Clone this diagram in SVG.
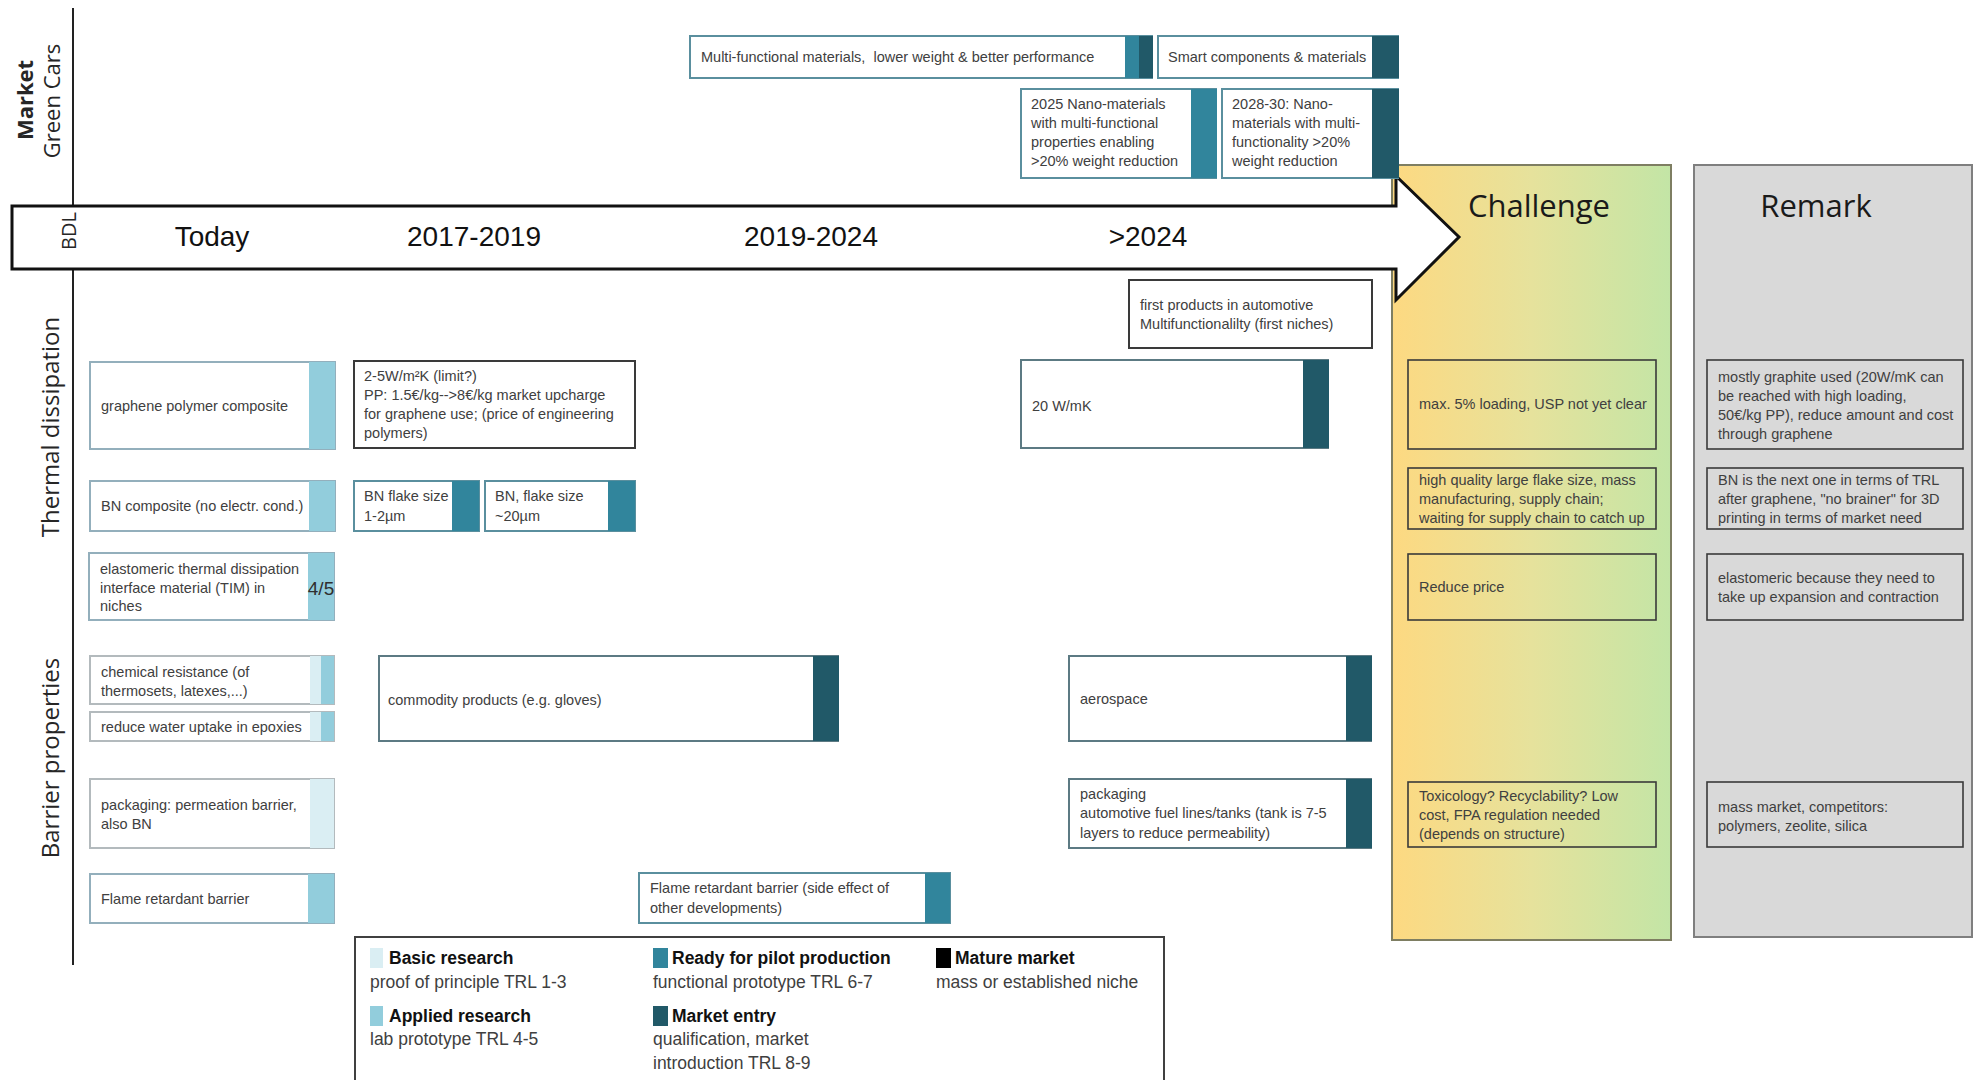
<svg xmlns="http://www.w3.org/2000/svg" width="1975" height="1080" viewBox="0 0 1975 1080">
  <defs>
    <linearGradient id="chgGrad" x1="0" y1="0" x2="1" y2="0">
      <stop offset="0" stop-color="#FDD981"/>
      <stop offset="0.5" stop-color="#E6E29C"/>
      <stop offset="1" stop-color="#C3E5A6"/>
    </linearGradient>
  </defs>
  <style>
    .t { font-family: "Liberation Sans", Arial, sans-serif; font-size: 14.5px; fill: #404040; }
    .hdr { font-family: "Open Sans", "Liberation Sans", sans-serif; font-size: 31px; fill: #1a1a1a; }
    .yr { font-family: "Liberation Sans", Arial, sans-serif; font-size: 28px; fill: #111; text-anchor: middle; }
    .side { font-family: "Open Sans", "Liberation Sans", sans-serif; font-size: 24px; fill: #262626; text-anchor: middle; }
    .lgT { font-family: "Liberation Sans", Arial, sans-serif; font-size: 17.5px; font-weight: bold; fill: #111; }
    .lgS { font-family: "Liberation Sans", Arial, sans-serif; font-size: 17.5px; fill: #404040; }
    .box { fill: #fff; stroke-width: 2; }
    .bApp { stroke: #93AFBC; }
    .bGray { stroke: #B3BABD; }
    .bDark { stroke: #5C7A83; }
    .bTeal { stroke: #5A8F9E; }
    .bInk { stroke: #3A3A3A; }
    .inner { fill: none; stroke: #3A3A3A; stroke-width: 1.6; }
    .s1 { fill: #DAEEF3; }
    .s2 { fill: #92CDDC; }
    .s3 { fill: #31859C; }
    .s4 { fill: #215968; }
    .s5 { fill: #000; }
  </style>

  <!-- side panels -->
  <g id="challenge">
    <rect x="1392" y="165" width="279" height="775" fill="url(#chgGrad)" stroke="#7E7E62" stroke-width="2"/>
    <text class="hdr" x="1539" y="217" text-anchor="middle">Challenge</text>
  </g>
  <g id="remark">
    <rect x="1694" y="165" width="278" height="772" fill="#D9D9D9" stroke="#7F7F7F" stroke-width="2"/>
    <text class="hdr" x="1816" y="217" text-anchor="middle">Remark</text>
  </g>

  <!-- time axis -->
  <g id="axis">
    <line x1="73" y1="8" x2="73" y2="965" stroke="#222" stroke-width="2"/>
    <polygon points="12,206 1396,206 1396,176 1459,237 1396,300 1396,269 12,269" fill="#fff" stroke="#111" stroke-width="3"/>
    <text class="yr" x="212" y="246">Today</text>
    <text class="yr" x="474" y="246">2017-2019</text>
    <text class="yr" x="811" y="246">2019-2024</text>
    <text class="yr" x="1148" y="246">&gt;2024</text>
  </g>

  <!-- row labels -->
  <g id="row-labels">
    <text class="side" style="font-weight:bold;font-size:22px" transform="translate(33,100) rotate(-90)">Market</text>
    <text class="side" style="font-size:22px" transform="translate(60,101) rotate(-90)">Green Cars</text>
    <text class="side" style="font-size:20px" transform="translate(76,231) rotate(-90)">BDL</text>
    <text class="side" transform="translate(59,427) rotate(-90)">Thermal dissipation</text>
    <text class="side" transform="translate(59,758) rotate(-90)">Barrier properties</text>
  </g>

  <!-- Green Cars market -->
  <g id="multi-functional">
    <rect class="box bTeal" x="690" y="36" width="462" height="42"/>
    <rect class="s3" x="1125" y="36" width="14" height="42"/>
    <rect class="s4" x="1139" y="36" width="14" height="42"/>
    <text class="t" x="701" y="62">Multi-functional materials, &#160;lower weight &amp; better performance</text>
  </g>
  <g id="smart-components">
    <rect class="box bTeal" x="1158" y="36" width="240" height="42"/>
    <rect class="s4" x="1372" y="36" width="27" height="42"/>
    <text class="t" x="1168" y="62">Smart components &amp; materials</text>
  </g>
  <g id="nano-2025">
    <rect class="box bTeal" x="1021" y="89" width="195" height="89"/>
    <rect class="s3" x="1191" y="89" width="26" height="89"/>
    <text class="t" x="1031" y="109">2025 Nano-materials</text>
    <text class="t" x="1031" y="128">with multi-functional</text>
    <text class="t" x="1031" y="147">properties enabling</text>
    <text class="t" x="1031" y="166">&gt;20% weight reduction</text>
  </g>
  <g id="nano-2028">
    <rect class="box bTeal" x="1222" y="89" width="176" height="89"/>
    <rect class="s4" x="1372" y="89" width="27" height="89"/>
    <text class="t" x="1232" y="109">2028-30: Nano-</text>
    <text class="t" x="1232" y="128">materials with multi-</text>
    <text class="t" x="1232" y="147">functionality &gt;20%</text>
    <text class="t" x="1232" y="166">weight reduction</text>
  </g>

  <!-- Thermal dissipation -->
  <g id="first-products">
    <rect class="box bInk" x="1129" y="280" width="243" height="68"/>
    <text class="t" x="1140" y="310">first products in automotive</text>
    <text class="t" x="1140" y="329">Multifunctionalilty (first niches)</text>
  </g>
  <g id="graphene-composite">
    <rect class="box bApp" x="90" y="362" width="245" height="87"/>
    <rect class="s2" x="309" y="362" width="26" height="87"/>
    <text class="t" x="101" y="411">graphene polymer composite</text>
  </g>
  <g id="graphene-price">
    <rect class="box bInk" x="354" y="361" width="281" height="87"/>
    <text class="t" x="364" y="381">2-5W/m²K (limit?)</text>
    <text class="t" x="364" y="400">PP: 1.5€/kg--&gt;8€/kg market upcharge</text>
    <text class="t" x="364" y="419">for graphene use; (price of engineering</text>
    <text class="t" x="364" y="438">polymers)</text>
  </g>
  <g id="w-mk-20">
    <rect class="box bDark" x="1021" y="360" width="307" height="88"/>
    <rect class="s4" x="1303" y="360" width="26" height="88"/>
    <text class="t" x="1032" y="411">20 W/mK</text>
  </g>
  <g id="bn-composite">
    <rect class="box bApp" x="90" y="481" width="245" height="50"/>
    <rect class="s2" x="309" y="481" width="26" height="50"/>
    <text class="t" x="101" y="511">BN composite (no electr. cond.)</text>
  </g>
  <g id="bn-flake-small">
    <rect class="box bTeal" x="354" y="481" width="125" height="50"/>
    <rect class="s3" x="452" y="481" width="27" height="50"/>
    <text class="t" x="364" y="501">BN flake size</text>
    <text class="t" x="364" y="521">1-2µm</text>
  </g>
  <g id="bn-flake-large">
    <rect class="box bTeal" x="485" y="481" width="150" height="50"/>
    <rect class="s3" x="608" y="481" width="27" height="50"/>
    <text class="t" x="495" y="501">BN, flake size</text>
    <text class="t" x="495" y="521">~20µm</text>
  </g>
  <g id="elastomeric-tim">
    <rect class="box bApp" x="89" y="553" width="245" height="67"/>
    <rect class="s2" x="308" y="553" width="26" height="67"/>
    <text class="t" x="100" y="574">elastomeric thermal dissipation</text>
    <text class="t" x="100" y="593">interface material (TIM) in</text>
    <text class="t" x="100" y="611">niches</text>
    <text x="321" y="595" text-anchor="middle" style="font-family:'Liberation Sans',Arial,sans-serif;font-size:19px;fill:#2f2f2f">4/5</text>
  </g>

  <!-- Barrier properties -->
  <g id="chemical-resistance">
    <rect class="box bGray" x="90" y="656" width="244" height="48"/>
    <rect class="s1" x="310" y="656" width="11" height="48"/>
    <rect class="s2" x="321" y="656" width="13" height="48"/>
    <text class="t" x="101" y="677">chemical resistance (of</text>
    <text class="t" x="101" y="696">thermosets, latexes,...)</text>
  </g>
  <g id="water-uptake">
    <rect class="box bGray" x="90" y="712" width="244" height="29"/>
    <rect class="s1" x="310" y="712" width="11" height="29"/>
    <rect class="s2" x="321" y="712" width="13" height="29"/>
    <text class="t" x="101" y="732">reduce water uptake in epoxies</text>
  </g>
  <g id="commodity-products">
    <rect class="box bDark" x="379" y="656" width="459" height="85"/>
    <rect class="s4" x="813" y="656" width="26" height="85"/>
    <text class="t" x="388" y="705">commodity products (e.g. gloves)</text>
  </g>
  <g id="aerospace">
    <rect class="box bDark" x="1069" y="656" width="302" height="85"/>
    <rect class="s4" x="1346" y="656" width="26" height="85"/>
    <text class="t" x="1080" y="704">aerospace</text>
  </g>
  <g id="packaging-permeation">
    <rect class="box bGray" x="90" y="779" width="244" height="69"/>
    <rect class="s1" x="310" y="779" width="24" height="69"/>
    <text class="t" x="101" y="810">packaging: permeation barrier,</text>
    <text class="t" x="101" y="829">also BN</text>
  </g>
  <g id="packaging-automotive">
    <rect class="box bDark" x="1069" y="779" width="302" height="69"/>
    <rect class="s4" x="1346" y="779" width="26" height="69"/>
    <text class="t" x="1080" y="799">packaging</text>
    <text class="t" x="1080" y="818">automotive fuel lines/tanks (tank is 7-5</text>
    <text class="t" x="1080" y="838">layers to reduce permeability)</text>
  </g>
  <g id="flame-retardant">
    <rect class="box bApp" x="90" y="874" width="244" height="49"/>
    <rect class="s2" x="308" y="874" width="26" height="49"/>
    <text class="t" x="101" y="904">Flame retardant barrier</text>
  </g>
  <g id="flame-retardant-side">
    <rect class="box bTeal" x="639" y="873" width="311" height="50"/>
    <rect class="s3" x="925" y="873" width="25" height="50"/>
    <text class="t" x="650" y="893">Flame retardant barrier (side effect of</text>
    <text class="t" x="650" y="913">other developments)</text>
  </g>

  <!-- challenge notes -->
  <g id="challenge-graphene">
    <rect class="inner" x="1408" y="360" width="248" height="89"/>
    <text class="t" x="1419" y="409">max. 5% loading, USP not yet clear</text>
  </g>
  <g id="challenge-bn">
    <rect class="inner" x="1408" y="468" width="248" height="61"/>
    <text class="t" x="1419" y="485">high quality large flake size, mass</text>
    <text class="t" x="1419" y="504">manufacturing, supply chain;</text>
    <text class="t" x="1419" y="523">waiting for supply chain to catch up</text>
  </g>
  <g id="challenge-tim">
    <rect class="inner" x="1408" y="554" width="248" height="66"/>
    <text class="t" x="1419" y="592">Reduce price</text>
  </g>
  <g id="challenge-packaging">
    <rect class="inner" x="1408" y="782" width="248" height="65"/>
    <text class="t" x="1419" y="801">Toxicology? Recyclability? Low</text>
    <text class="t" x="1419" y="820">cost, FPA regulation needed</text>
    <text class="t" x="1419" y="839">(depends on structure)</text>
  </g>

  <!-- remark notes -->
  <g id="remark-graphene">
    <rect class="inner" x="1707" y="360" width="256" height="89"/>
    <text class="t" x="1718" y="382">mostly graphite used (20W/mK can</text>
    <text class="t" x="1718" y="401">be reached with high loading,</text>
    <text class="t" x="1718" y="420">50€/kg PP), reduce amount and cost</text>
    <text class="t" x="1718" y="439">through graphene</text>
  </g>
  <g id="remark-bn">
    <rect class="inner" x="1707" y="468" width="256" height="61"/>
    <text class="t" x="1718" y="485">BN is the next one in terms of TRL</text>
    <text class="t" x="1718" y="504">after graphene, "no brainer" for 3D</text>
    <text class="t" x="1718" y="523">printing in terms of market need</text>
  </g>
  <g id="remark-tim">
    <rect class="inner" x="1707" y="554" width="256" height="66"/>
    <text class="t" x="1718" y="583">elastomeric because they need to</text>
    <text class="t" x="1718" y="602">take up expansion and contraction</text>
  </g>
  <g id="remark-packaging">
    <rect class="inner" x="1707" y="782" width="256" height="65"/>
    <text class="t" x="1718" y="812">mass market, competitors:</text>
    <text class="t" x="1718" y="831">polymers, zeolite, silica</text>
  </g>

  <!-- TRL legend -->
  <g id="legend">
    <rect x="355" y="937" width="809" height="160" fill="#fff" stroke="#404040" stroke-width="2"/>
    <rect class="s1" x="370" y="948" width="13" height="20"/>
    <text class="lgT" x="389" y="964">Basic research</text>
    <text class="lgS" x="370" y="988">proof of principle TRL 1-3</text>
    <rect class="s2" x="370" y="1006" width="13" height="20"/>
    <text class="lgT" x="389" y="1022">Applied research</text>
    <text class="lgS" x="370" y="1045">lab prototype TRL 4-5</text>
    <rect class="s3" x="653" y="948" width="15" height="20"/>
    <text class="lgT" x="672" y="964">Ready for pilot production</text>
    <text class="lgS" x="653" y="988">functional prototype TRL 6-7</text>
    <rect class="s4" x="653" y="1006" width="15" height="20"/>
    <text class="lgT" x="672" y="1022">Market entry</text>
    <text class="lgS" x="653" y="1045">qualification, market</text>
    <text class="lgS" x="653" y="1069">introduction TRL 8-9</text>
    <rect class="s5" x="936" y="948" width="15" height="20"/>
    <text class="lgT" x="955" y="964">Mature market</text>
    <text class="lgS" x="936" y="988">mass or established niche</text>
  </g>
</svg>
